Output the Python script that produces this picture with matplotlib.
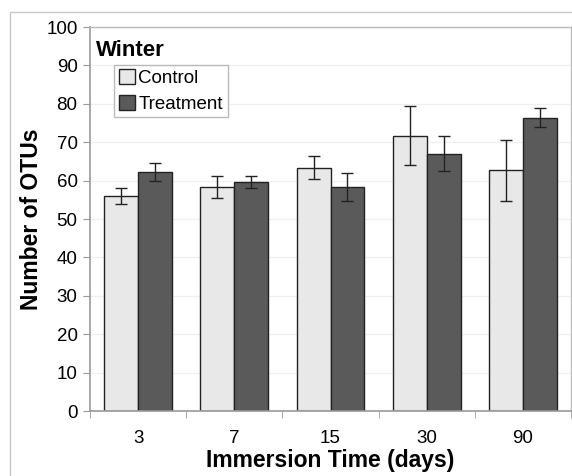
import numpy as np
import matplotlib.pyplot as plt
from matplotlib.patches import Rectangle

plt.rcParams['font.family'] = ['Liberation Sans', 'DejaVu Sans']

days = ['3', '7', '15', '30', '90']
control = [56.1, 58.4, 63.4, 71.7, 62.7]
control_err = [2.1, 2.9, 2.9, 7.7, 7.9]
treatment = [62.3, 59.6, 58.3, 67.0, 76.4]
treatment_err = [2.3, 1.5, 3.6, 4.5, 2.4]

fig = plt.figure(figsize=(5.72, 4.76), dpi=100)
# light frame around the whole chart
fig.patches.append(Rectangle((10 / 572, -0.1), 1.0, (464 / 476) + 0.1,
                             transform=fig.transFigure, fill=False,
                             edgecolor='#c8c8c8', linewidth=1.0))
ax = fig.add_axes([90 / 572, 1 - 411 / 476, 481 / 572, 384 / 476])

x = np.arange(len(days))
w = 0.353
err_kw = dict(ecolor='#222222', elinewidth=1.0, capsize=4, capthick=1.0)
ax.bar(x - w / 2, control, w, yerr=control_err, color='#e8e8e8',
       edgecolor='#222222', linewidth=1.0, label='Control', error_kw=err_kw, zorder=2)
ax.bar(x + w / 2, treatment, w, yerr=treatment_err, color='#5a5a5a',
       edgecolor='#222222', linewidth=1.0, label='Treatment', error_kw=err_kw, zorder=2)

ax.set_xlim(-0.5, len(days) - 0.5)
ax.set_ylim(0, 100)
ax.set_yticks(range(0, 101, 10))
ax.yaxis.grid(True, color='#f0f0f0', linewidth=1.0, zorder=0)
ax.set_axisbelow(True)

ax.set_xticks(x)
ax.set_xticklabels(days)
ax.set_xticks(np.arange(-0.5, len(days), 1.0), minor=True)
ax.tick_params(axis='x', which='major', length=0, pad=14, labelsize=13.5)
ax.tick_params(axis='x', which='minor', length=5, color='#999999')
ax.tick_params(axis='y', length=5, color='#999999', labelsize=13.5, pad=4)

for side in ['left', 'bottom']:
    ax.spines[side].set_color('#999999')
    ax.spines[side].set_linewidth(1.2)
for side in ['top', 'right']:
    ax.spines[side].set_color('#bbbbbb')
    ax.spines[side].set_linewidth(1.0)

ax.set_xlabel('Immersion Time (days)', fontsize=16.5, fontweight='bold', labelpad=1)
ax.set_ylabel('Number of OTUs', fontsize=16.5, fontweight='bold', labelpad=2)

ax.text(0.012, 0.965, 'Winter', transform=ax.transAxes, fontsize=16,
        fontweight='bold', va='top', ha='left')
leg = ax.legend(loc='upper left', bbox_to_anchor=(0.05, 0.902), fontsize=13.5,
                frameon=True, fancybox=False, borderpad=0.25, labelspacing=0.4,
                handlelength=0.85, handleheight=0.85, handletextpad=0.2,
                borderaxespad=0.0)
leg.get_frame().set_edgecolor('#aaaaaa')
leg.get_frame().set_linewidth(1.0)

fig.savefig('out.png', dpi=100)
